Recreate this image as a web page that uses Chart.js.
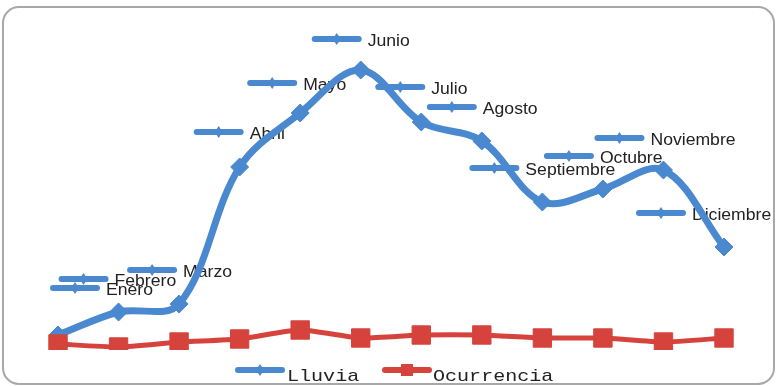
<!DOCTYPE html>
<html>
<head>
<meta charset="utf-8">
<script src="https://cdn.jsdelivr.net/npm/chart.js@4.4.0/dist/chart.umd.min.js"></script>
<style>
  html, body { margin:0; padding:0; background:#fff; }
  #wrap { width:777px; height:386px; position:relative; }
</style>
</head>
<body>
<div id="wrap"><canvas id="lluviaChart" width="777" height="386"></canvas></div>
<script>

const meses = ["Enero","Febrero","Marzo","Abril","Mayo","Junio","Julio","Agosto","Septiembre","Octubre","Noviembre","Diciembre"];
const lluvia = [15, 38, 46, 183, 237, 280, 228, 209, 148, 161, 180, 103];
const ocurrencia = [6, 3, 8, 11, 20, 12, 15, 15, 12, 12, 8, 12];
const seriesNames = ["Lluvia","Ocurrencia"];

// where each month tag sits, relative to its point (px)
const tagOffsets = [[17,-47],[-35,-33],[-27,-34],[-21,-35],[-28,-30],[-24,-31],
                    [-21,-35],[-30,-34],[-48,-34],[-34,-33],[-44,-32],[-63,-34]];

const BLUE = "#4a89cf";
const RED = "#d6433c";

window.addEventListener("load", function(){
    createChart();
});

function drawSymbol(ctx, cx, cy, color, marker){
    ctx.save();
    ctx.strokeStyle = color;
    ctx.lineWidth = 6;
    ctx.lineCap = "round";
    ctx.beginPath();
    ctx.moveTo(cx - 22, cy);
    ctx.lineTo(cx + 22, cy);
    ctx.stroke();
    ctx.fillStyle = color;
    ctx.beginPath();
    if(marker == "diamond"){
        ctx.moveTo(cx, cy - 6);
        ctx.lineTo(cx + 4, cy);
        ctx.lineTo(cx, cy + 6);
        ctx.lineTo(cx - 4, cy);
    }else{
        ctx.rect(cx - 6, cy - 6, 12, 12);
    }
    ctx.fill();
    ctx.restore();
}

function drawStretchedText(ctx, text, x, y, font, sx, color){
    ctx.save();
    ctx.translate(x, y);
    ctx.scale(sx, 1);
    ctx.font = font;
    ctx.fillStyle = color;
    ctx.textAlign = "left";
    ctx.textBaseline = "middle";
    ctx.fillText(text, 0, 0);
    ctx.restore();
}

const framePlugin = {
    id:"frame",
    beforeDraw(chart){
        const ctx = chart.ctx;
        ctx.save();
        ctx.fillStyle = "#fff";
        ctx.fillRect(0, 0, chart.width, chart.height);
        ctx.strokeStyle = "#a8a8a8";
        ctx.lineWidth = 2;
        ctx.beginPath();
        ctx.roundRect(3, 7, 771, 377, 16);
        ctx.stroke();
        ctx.restore();
    }
};

const tagPlugin = {
    id:"monthTags",
    beforeDatasetsDraw(chart){
        const ctx = chart.ctx;
        const pts = chart.getDatasetMeta(0).data;
        pts.forEach((p, i) => {
            let cx = p.x + tagOffsets[i][0];
            let cy = p.y + tagOffsets[i][1];
            drawSymbol(ctx, cx, cy, BLUE, "diamond");
            drawStretchedText(ctx, meses[i], cx + 31, cy + 3, "16px 'Liberation Sans', Arial, sans-serif", 1.1, "#222");
        });
    },
    afterDraw(chart){
        // bottom legend
        const ctx = chart.ctx;
        drawSymbol(ctx, 260, 370, BLUE, "diamond");
        drawStretchedText(ctx, seriesNames[0], 287, 376, "17px 'Liberation Mono', 'Courier New', monospace", 1.18, "#222");
        drawSymbol(ctx, 407, 370, RED, "square");
        drawStretchedText(ctx, seriesNames[1], 433, 376, "17px 'Liberation Mono', 'Courier New', monospace", 1.18, "#222");
    }
};

function createChart(){

    new Chart(document.getElementById("lluviaChart"),{
        type:"line",
        data:{
            labels:meses,
            datasets:[{
                label:seriesNames[0],
                data:lluvia,
                borderColor:BLUE,
                backgroundColor:BLUE,
                borderWidth:7,
                tension:0.35,
                pointStyle:"rectRot",
                pointRadius:9,
                pointBorderWidth:1,
                order:1
            },{
                label:seriesNames[1],
                data:ocurrencia,
                borderColor:RED,
                backgroundColor:RED,
                borderWidth:5,
                tension:0.2,
                pointStyle:"rect",
                pointRadius:13,
                pointBorderWidth:1,
                order:0
            }]
        },
        options:{
            responsive:false,
            animation:false,
            layout:{ padding:{ left:58, right:53, top:50, bottom:36 } },
            plugins:{
                legend:{ display:false },
                tooltip:{ enabled:false }
            },
            scales:{
                x:{ display:false, offset:false },
                y:{ display:false, min:0, max:300 }
            }
        },
        plugins:[framePlugin, tagPlugin]
    });

}
</script>
</body>
</html>
